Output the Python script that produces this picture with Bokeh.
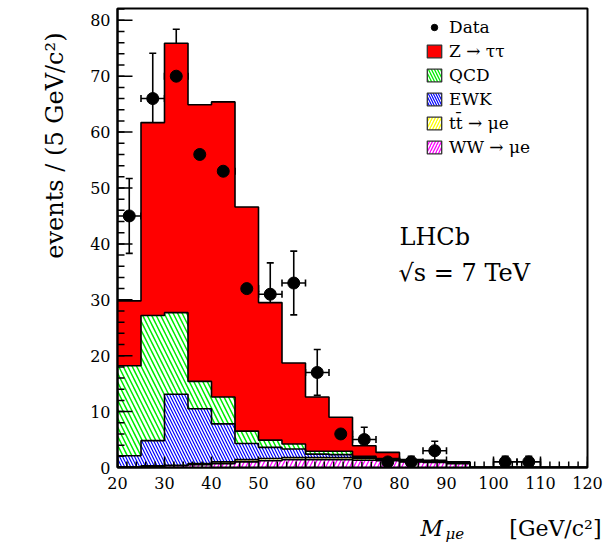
import numpy as np
from bokeh.plotting import figure
from bokeh.models import (Range1d, SingleIntervalTicker, Whisker, ColumnDataSource, Legend, LegendItem,
                          Label, TeeHead, Title)
from bokeh.embed import file_html
from bokeh.resources import INLINE

# ---------------- data ----------------
bin_edges = [20, 25, 30, 35, 40, 45, 50, 55, 60, 65, 70, 75, 80, 85, 90, 95, 100, 105, 110, 115, 120]

# stacked components (events per bin), bottom to top
ww_mue = [0.1, 0.2, 0.3, 0.5, 0.7, 1.0, 1.2, 1.4, 1.4, 1.4, 1.3, 1.2, 1.0, 0.9, 0.7, 0, 0, 0, 0, 0]
ttbar_mue = [0.0, 0.1, 0.1, 0.2, 0.3, 0.4, 0.4, 0.4, 0.4, 0.4, 0.3, 0.2, 0.1, 0.1, 0.1, 0, 0, 0, 0, 0]
ewk = [2.0, 4.5, 12.7, 9.8, 6.8, 2.9, 2.0, 1.5, 0.6, 0.5, 0.2, 0.1, 0.05, 0.05, 0.05, 0, 0, 0, 0, 0]
qcd = [16.1, 22.4, 14.6, 4.9, 4.8, 2.2, 1.3, 0.9, 0.5, 0.6, 0.2, 0.1, 0.05, 0.05, 0.05, 0, 0, 0, 0, 0]
ztautau = [11.6, 34.5, 48.2, 49.5, 52.8, 40.1, 24.6, 14.5, 9.7, 6.1, 1.9, 1.1, 0.2, 0.2, 0.1, 0, 0, 0, 0, 0]

# data points
data_mass = [22.5, 27.5, 32.5, 37.5, 42.5, 47.5, 52.5, 57.5, 62.5, 67.5, 72.5, 77.5, 82.5, 87.5, 102.5, 107.5]
data_events = [45, 66, 70, 56, 53, 32, 31, 33, 17, 6, 5, 1, 1, 3, 1, 1]
data_err = [6.7, 8.1, 8.4, 7.5, 7.3, 5.7, 5.6, 5.7, 4.1, 2.4, 2.2, 1.0, 1.0, 1.7, 1.0, 1.0]
bin_half_width = 2.5

x_major_step, x_minor_step = 10, 2
y_major_step, y_minor_step = 10, 2

# ---------------- layout helpers ----------------
FRAME_L, FRAME_R, FRAME_T, FRAME_B = 117, 587, 8, 467
X0, X1 = 20, 120
Y0 = 0
PX_PER_Y = 5.59
PX_PER_X = (FRAME_R - FRAME_L) / (X1 - X0)
Y1 = (FRAME_B - FRAME_T) / PX_PER_Y
TEXT_SHIFT = 9  # label baseline correction in pixels


def px2x(px):
    return X0 + (px - FRAME_L) / PX_PER_X


def px2y(py):
    return (FRAME_B - (py - TEXT_SHIFT)) / PX_PER_Y


def step_path(edges, vals):
    xs, ys = [], []
    for i, v in enumerate(vals):
        xs += [edges[i], edges[i + 1]]
        ys += [v, v]
    return xs, ys


SERIF = "DejaVu Serif"

p = figure(width=615, height=545, output_backend="svg", toolbar_location=None,
           x_range=Range1d(X0, X1), y_range=Range1d(Y0, Y1),
           min_border_left=FRAME_L, min_border_right=615 - FRAME_R,
           min_border_top=FRAME_T, min_border_bottom=545 - FRAME_B)
p.xgrid.visible = False
p.ygrid.visible = False
p.background_fill_color = "white"
p.border_fill_color = "white"
p.outline_line_color = "black"
p.outline_line_width = 2

# stacked histograms, bottom to top
layers = [
    ("ww", ww_mue, dict(fill_color="white", hatch_pattern="/", hatch_color="#ff00ff", hatch_scale=8, hatch_weight=1.3)),
    ("tt", ttbar_mue, dict(fill_color="white", hatch_pattern="/", hatch_color="#ffff00", hatch_scale=8, hatch_weight=1.3)),
    ("ewk", ewk, dict(fill_color="white", hatch_pattern="\\", hatch_color="#0000ff", hatch_scale=6, hatch_weight=1.2)),
    ("qcd", qcd, dict(fill_color="white", hatch_pattern="\\", hatch_color="#00ee00", hatch_scale=9, hatch_weight=1.5)),
    ("z", ztautau, dict(fill_color="#ff0000")),
]
left = np.array(bin_edges[:-1], dtype=float)
right = np.array(bin_edges[1:], dtype=float)
bottom = np.zeros(len(left))
tops = []
sources = {}
for name, vals, style in layers:
    top = bottom + np.array(vals, dtype=float)
    sources[name] = ColumnDataSource(dict(left=left, right=right, bottom=bottom, top=top))
    tx, ty = step_path(bin_edges, top)
    bx, by = step_path(bin_edges, bottom)
    p.patch(tx + bx[::-1], ty + by[::-1], line_color=None, **style)
    tops.append(top)
    bottom = top

# outlines (step lines of each cumulative level)
for top in tops:
    tx, ty = step_path(bin_edges, top)
    p.line([bin_edges[0]] + tx + [bin_edges[-1]], [0.0] + ty + [0.0], line_color="black", line_width=1.6)

# inward ticks (ROOT style)
yt_major = np.arange(Y0, 80 + 0.1, y_major_step)
yt_minor = np.arange(Y0, Y1, y_minor_step)
xt_major = np.arange(X0, X1 + 0.1, x_major_step)
xt_minor = np.arange(X0, X1 + 0.1, x_minor_step)
p.segment(x0=X0, x1=X0 + 15 / PX_PER_X, y0=yt_major, y1=yt_major, line_color="black", line_width=1.5)
p.segment(x0=X0, x1=X0 + 7 / PX_PER_X, y0=yt_minor, y1=yt_minor, line_color="black", line_width=1.5)
p.segment(x0=xt_major, x1=xt_major, y0=Y0, y1=Y0 + 11 / PX_PER_Y, line_color="black", line_width=1.5)
p.segment(x0=xt_minor, x1=xt_minor, y0=Y0, y1=Y0 + 6 / PX_PER_Y, line_color="black", line_width=1.5)

# data with error bars
dsrc = ColumnDataSource(dict(
    x=data_mass, y=data_events,
    lo=[v - e for v, e in zip(data_events, data_err)],
    hi=[v + e for v, e in zip(data_events, data_err)],
    xl=[x - bin_half_width for x in data_mass],
    xr=[x + bin_half_width for x in data_mass],
))
for base, lo, hi, dim in (("x", "lo", "hi", "height"), ("y", "xl", "xr", "width")):
    p.add_layout(Whisker(source=dsrc, base=base, lower=lo, upper=hi, dimension=dim,
                         line_color="black", line_width=1.6,
                         upper_head=TeeHead(size=7, line_color="black", line_width=1.6),
                         lower_head=TeeHead(size=7, line_color="black", line_width=1.6)))
p.scatter("x", "y", source=dsrc, size=12, color="black", marker="circle")

# legend proxies (hidden renderers sharing the data sources)
r_data = p.scatter("x", "y", source=dsrc, size=11, color="black", marker="circle", visible=False)
proxies = {}
legend_styles = {
    "z": dict(fill_color="#ff0000"),
    "qcd": dict(fill_color="white", hatch_pattern="\\", hatch_color="#00ee00", hatch_scale=6, hatch_weight=1.3),
    "ewk": dict(fill_color="white", hatch_pattern="\\", hatch_color="#0000ff", hatch_scale=5, hatch_weight=1.2),
    "tt": dict(fill_color="white", hatch_pattern="/", hatch_color="#ffff00", hatch_scale=6, hatch_weight=1.3),
    "ww": dict(fill_color="white", hatch_pattern="/", hatch_color="#ff00ff", hatch_scale=6, hatch_weight=1.3),
}
for name, st in legend_styles.items():
    proxies[name] = p.quad(left="left", right="right", bottom="bottom", top="top", source=sources[name],
                           line_color="#333333", line_width=1.3, visible=False, **st)

legend = Legend(items=[
    LegendItem(label="Data", renderers=[r_data]),
    LegendItem(label="Z → ττ", renderers=[proxies["z"]]),
    LegendItem(label="QCD", renderers=[proxies["qcd"]]),
    LegendItem(label="EWK", renderers=[proxies["ewk"]]),
    LegendItem(label="tt̄ → μe", renderers=[proxies["tt"]]),
    LegendItem(label="WW → μe", renderers=[proxies["ww"]]),
], location=(425 - FRAME_L, FRAME_B - 157), padding=0, margin=0, spacing=4,
    glyph_width=18, glyph_height=16, label_height=20, label_standoff=6,
    label_text_font=SERIF, label_text_font_size="17px", label_text_baseline="middle",
    label_text_color="black",
    border_line_color=None, background_fill_alpha=0, inactive_fill_alpha=0)
p.add_layout(legend)

# axes: tick labels only, ticks drawn above
p.xaxis.ticker = SingleIntervalTicker(interval=x_major_step, num_minor_ticks=5)
p.yaxis.ticker = SingleIntervalTicker(interval=y_major_step, num_minor_ticks=5)
for ax in (p.xaxis, p.yaxis):
    ax.axis_line_width = 2
    ax.axis_line_color = "black"
    ax.major_tick_in = 0
    ax.major_tick_out = 0
    ax.minor_tick_in = 0
    ax.minor_tick_out = 0
    ax.major_label_text_font = SERIF
    ax.major_label_text_font_size = "16px"
    ax.major_label_text_color = "black"
p.yaxis.major_label_standoff = 7
p.xaxis.major_label_standoff = 9

# y-axis title
p.add_layout(Title(text="events / (5 GeV/c²)", align="right", offset=24, standoff=34, vertical_align="top",
                   text_font=SERIF, text_font_size="24px", text_font_style="normal",
                   text_color="black"), "left")

# x-axis title pieces (placed by data coordinates, hosted in side panels so they are not clipped)
p.add_layout(Label(x=px2x(420), y=px2y(537), text="M",
                   text_align="left", text_baseline="alphabetic", text_font_style="italic",
                   text_font=SERIF, text_font_size="22px", text_color="black"), "left")
p.add_layout(Label(x=px2x(445), y=px2y(542), text="μe",
                   text_align="left", text_baseline="alphabetic", text_font_style="italic",
                   text_font=SERIF, text_font_size="15px", text_color="black"), "below")
p.add_layout(Label(x=px2x(601), y=px2y(537), text="[GeV/c²]",
                   text_align="right", text_baseline="alphabetic",
                   text_font=SERIF, text_font_size="22px", text_color="black"), "below")

# experiment labels
p.add_layout(Label(x=px2x(399), y=px2y(245), text="LHCb",
                   text_align="left", text_baseline="alphabetic",
                   text_font=SERIF, text_font_size="24px", text_color="black"))
p.add_layout(Label(x=px2x(398), y=px2y(281), text="√s = 7 TeV",
                   text_align="left", text_baseline="alphabetic",
                   text_font=SERIF, text_font_size="24px", text_color="black"))

open("out.html", "w").write(file_html(p, INLINE))
